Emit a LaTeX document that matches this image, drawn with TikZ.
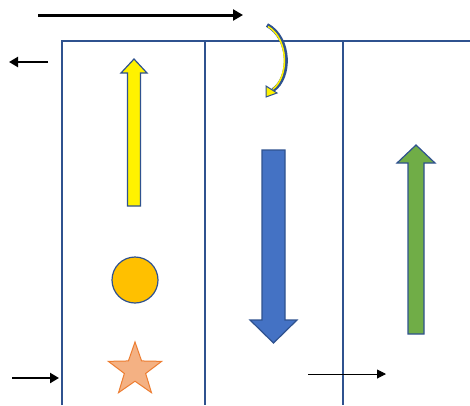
\documentclass[tikz,border=0pt]{standalone}
\usetikzlibrary{arrows.meta,shapes.geometric}
\definecolor{frameblue}{RGB}{47,82,143}
\definecolor{blockblue}{RGB}{68,114,196}
\definecolor{blockgreen}{RGB}{112,173,71}
\definecolor{circgold}{RGB}{255,192,0}
\definecolor{starfill}{RGB}{244,177,131}
\definecolor{starline}{RGB}{237,125,49}
\begin{document}
\begin{tikzpicture}[x=1pt,y=-1pt,
  frameline/.style={draw=frameblue,line width=1.3pt},
  blockarrow/.style={draw=frameblue,line width=1.2pt,line join=miter},
  bigarrow/.style={draw=black,line width=3pt,-{Triangle[length=10pt,width=11pt]}},
  midarrow/.style={draw=black,line width=2.7pt,-{Triangle[length=9pt,width=10pt]}},
  thinarrow/.style={draw=black,line width=1pt,-{Triangle[length=9pt,width=9pt]}}]
\fill[white] (0,0) rectangle (470,405);
\useasboundingbox (0,0) rectangle (470,405);
% frame
\coordinate (fl) at (62,405); \coordinate (tl) at (62,41); \coordinate (tr) at (470,41);
\coordinate (m1t) at (205,41); \coordinate (m1b) at (205,405);
\coordinate (m2t) at (343,41); \coordinate (m2b) at (343,405);
\draw[frameline] (fl) -- (tl) -- (tr);
\draw[frameline] (m1t) -- (m1b);
\draw[frameline] (m2t) -- (m2b);
% black arrows
\coordinate (a1s) at (38,15); \coordinate (a1e) at (243,15);
\draw[bigarrow] (a1s) -- (a1e);
\coordinate (a2s) at (48,62); \coordinate (a2e) at (9,62);
\draw[midarrow] (a2s) -- (a2e);
\coordinate (a3s) at (12,378); \coordinate (a3e) at (59,378);
\draw[midarrow] (a3s) -- (a3e);
\coordinate (a4s) at (308,374); \coordinate (a4e) at (386,374);
\draw[thinarrow] (a4s) -- (a4e);
% curved arrow
\draw[frameblue,line width=4pt] (267,25) .. controls (291,38) and (291,78) .. (273,90);
\draw[yellow,line width=1.5pt] (268,26.5) .. controls (289,39) and (289,77) .. (273,89);
\draw[blockarrow,fill=yellow,line width=1pt] (266,97) -- (266,86) -- (277,93) -- cycle;
% yellow block arrow
\draw[blockarrow,fill=yellow] (127.5,206) -- (127.5,73) -- (121,73) -- (134,59) -- (147,73) -- (140.5,73) -- (140.5,206) -- cycle;
% blue block arrow
\draw[blockarrow,fill=blockblue] (262,150) -- (285,150) -- (285,320) -- (297,320) -- (273.5,343) -- (250,320) -- (262,320) -- cycle;
% green block arrow
\draw[blockarrow,fill=blockgreen] (408,334) -- (408,163) -- (397,163) -- (416,145) -- (435,163) -- (424,163) -- (424,334) -- cycle;
% circle
\node[circle,draw=frameblue,line width=1.2pt,fill=circgold,minimum size=46pt,inner sep=0pt] (circ) at (135,280) {};
% star
\node[star,star points=5,star point ratio=2.5,fill=starfill,draw=starline,line width=1pt,minimum size=56pt,inner sep=0pt] (st) at (135,370) {};
\end{tikzpicture}
\end{document}
